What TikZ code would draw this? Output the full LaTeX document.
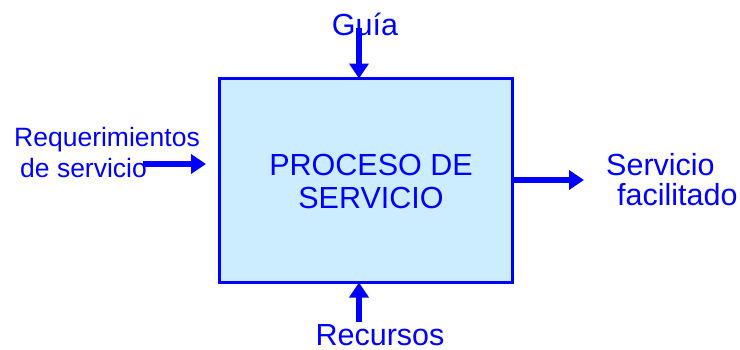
\documentclass[tikz,border=0pt]{standalone}
\usepackage{fontspec}
\setmainfont{Liberation Sans}
\usetikzlibrary{arrows.meta}
\definecolor{tblue}{HTML}{0000FF}
\definecolor{boxfill}{HTML}{CCECFF}
\tikzset{
  lbl/.style={text=tblue, font=\fontsize{30.5}{35}\selectfont, inner sep=0pt},
  slbl/.style={text=tblue, font=\fontsize{26.5}{31}\selectfont, inner sep=0pt},
  flow/.style={draw=tblue, line width=5.5pt, -{Triangle[length=15pt,width=19pt]}},
  procbox/.style={draw=tblue, line width=3pt, fill=boxfill}
}
\begin{document}
\begin{tikzpicture}[x=1pt,y=-1pt]
\useasboundingbox (0,0) rectangle (740,349);
\draw[procbox] (219.5,78.5) rectangle (512.5,282.5);
\coordinate (boxtop) at (359,78.5);
\coordinate (boxbot) at (359,282.5);
\coordinate (boxleft) at (206,164);
\coordinate (boxright) at (512.5,180);
\node[lbl, anchor=base] (p1) at (371,175) {PROCESO DE};
\node[lbl, anchor=base] (p2) at (371,208) {SERVICIO};
\node[lbl, anchor=base] (guia) at (365,35) {Guía};
\node[lbl, anchor=base] (rec) at (380,345) {Recursos};
\node[slbl, anchor=base west] (req1) at (14,146) {Requerimientos};
\node[slbl, anchor=base west] (req2) at (20,177) {de servicio};
\node[lbl, anchor=base west] (out1) at (606,175) {Servicio};
\node[lbl, anchor=base west] (out2) at (617,205) {facilitado};
\coordinate (gstart) at (359,28);
\coordinate (rstart) at (359,322);
\coordinate (lstart) at (143,164);
\coordinate (oend) at (584,180);
\draw[flow] (gstart) -- (boxtop);
\draw[flow] (rstart) -- (boxbot);
\draw[flow] (lstart) -- (boxleft);
\draw[flow] (boxright) -- (oend);
\end{tikzpicture}
\end{document}
